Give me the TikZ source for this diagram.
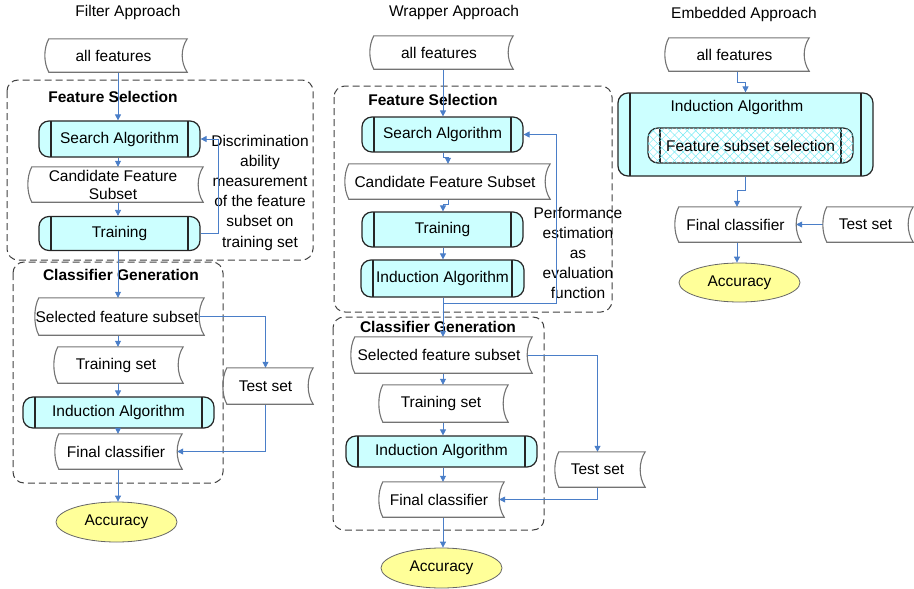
\documentclass[tikz,border=0pt]{standalone}
\usepackage{fontspec}
\setmainfont{Liberation Sans}
\usetikzlibrary{arrows.meta}
\usetikzlibrary{shapes.geometric}
\usetikzlibrary{patterns.meta}

\definecolor{procfill}{RGB}{204,255,255}
\definecolor{accfill}{RGB}{255,255,153}
\definecolor{linkblue}{RGB}{74,126,200}
\definecolor{hatchcyan}{RGB}{120,235,245}

\begin{document}
\begin{tikzpicture}[x=1pt,y=-1pt,font=\fontsize{15.5}{18}\selectfont,
arr/.style={draw=linkblue,line width=0.8pt,-{Triangle[length=6pt,width=6pt]}},
grp/.style={draw=black!75,line width=1pt,dash pattern=on 7pt off 4pt,rounded corners=11pt},
store/.style={inner sep=0pt,minimum height=35pt,align=center},
storeline/.style={draw=black!55,line width=1.1pt},
procbox/.style={draw=black!85,fill=procfill,line width=1.2pt,rounded corners=10pt,inner sep=0pt,minimum height=35pt,
  path picture={\draw[black!85,line width=1.2pt]
    ([xshift=12pt]path picture bounding box.north west) -- ([xshift=12pt]path picture bounding box.south west)
    ([xshift=-12pt]path picture bounding box.north east) -- ([xshift=-12pt]path picture bounding box.south east);}},
hatched/.style={fill=white,pattern color=hatchcyan,
  postaction={pattern={Lines[angle=45,distance=6pt,line width=0.5pt]},pattern color=hatchcyan},
  postaction={pattern={Lines[angle=-45,distance=6pt,line width=0.5pt]},pattern color=hatchcyan}},
acc/.style={ellipse,draw=black!60,fill=accfill,line width=0.8pt,minimum width=121pt,minimum height=40pt,inner sep=0pt},
grplabel/.style={font=\fontsize{15.5}{18}\selectfont\bfseries},
note/.style={align=center,font=\fontsize{15.5}{20.2}\selectfont}]

\useasboundingbox (0,0) rectangle (914,589);

% filter
\node (t1) at (128,12) {Filter Approach};
\draw[grp] (7,80) rectangle (313,260);
\draw[grp] (13,262) rectangle (223,483);
\node[grplabel] (fs1) at (113,97) {Feature Selection};
\node[grplabel] (cg1) at (121,275) {Classifier Generation};
\node[store,minimum width=137pt,minimum height=33pt] (af1) at (113.5,55.5) {all features};
\node[procbox,minimum width=161pt,minimum height=36pt] (sa1) at (119.5,139) {Search Algorithm};
\node[store,minimum width=170pt] (cfs1) at (113,184.5) {Candidate Feature\\Subset};
\node[procbox,minimum width=161pt,minimum height=34pt] (tr1) at (119.5,233.5) {Training};
\node[note] (disc) at (260,192.5) {Discrimination\\ability\\measurement\\of the feature\\subset on\\training set};
\node[store,minimum width=164pt,minimum height=37pt] (sfs1) at (117,316.5) {Selected feature subset};
\node[store,minimum width=124pt,minimum height=36pt] (ts1) at (116,365) {Training set};
\node[procbox,minimum width=191pt,minimum height=31pt] (ia1) at (118.5,412.5) {Induction Algorithm};
\node[store,minimum width=122pt] (fc1) at (116,451.5) {Final classifier};
\node[store,minimum width=85pt,minimum height=36pt] (te1) at (265.5,386) {Test set};
\node[acc] (acc1) at (116.5,522) {Accuracy};

\coordinate (col1) at (118,0);
\foreach \a/\b in {af1/sa1,sa1/cfs1,cfs1/tr1,tr1/sfs1,sfs1/ts1,ts1/ia1,ia1/fc1,fc1/acc1}
  \draw[arr] (col1 |- \a.south) -- (col1 |- \b.north);
\draw[arr] (tr1.east) -- ++(18,0) |- (sa1.east);
\draw[arr] (sfs1.east) -| (te1.north);
\draw[arr] (te1.south) |- (fc1.east);

% wrapper
\node (t2) at (454,12) {Wrapper Approach};
\draw[grp] (334,86) rectangle (612,312);
\draw[grp] (333,317) rectangle (544,530);
\node[grplabel] (fs2) at (433,100) {Feature Selection};
\node[grplabel] (cg2) at (438,327) {Classifier Generation};
\node[store,minimum width=138pt,minimum height=33pt] (af2) at (439,52.5) {all features};
\node[procbox,minimum width=161pt] (sa2) at (442.5,134.5) {Search Algorithm};
\node[store,minimum width=200pt] (cfs2) at (445,181.5) {Candidate Feature Subset};
\node[procbox,minimum width=161pt] (tr2) at (442.5,229.5) {Training};
\node[procbox,minimum width=163pt,minimum height=37pt] (ib2) at (442.5,278.5) {Induction Algorithm};
\node[note] (perf) at (578,253) {Performance\\estimation\\as\\evaluation\\function};
\node[store,minimum width=176pt,minimum height=36pt] (sfs2) at (439,355) {Selected feature subset};
\node[store,minimum width=124pt,minimum height=37pt] (ts2) at (441,403.5) {Training set};
\node[procbox,minimum width=191pt,minimum height=31pt] (ia2) at (441.5,451.5) {Induction Algorithm};
\node[store,minimum width=120pt] (fc2) at (439,499.5) {Final classifier};
\node[store,minimum width=85pt] (te2) at (597.5,469.5) {Test set};
\node[acc] (acc2) at (441.5,568) {Accuracy};

\coordinate (col2) at (443,0);
\draw[arr] (col2 |- af2.south) -- (col2 |- sa2.north);
\draw[arr] (col2 |- sa2.south) -- ++(0,5) -| ([xshift=3pt]cfs2.north);
\draw[arr] ([xshift=3pt]cfs2.south) -- ++(0,5) -| (col2 |- tr2.north);
\foreach \a/\b in {tr2/ib2,ib2/sfs2,sfs2/ts2,ts2/ia2,ia2/fc2,fc2/acc2}
  \draw[arr] (col2 |- \a.south) -- (col2 |- \b.north);
\draw[arr] (col2 |- ib2.south) -- ++(0,6) -| ([xshift=33pt]sa2.east) -- (sa2.east);
\draw[arr] (sfs2.east) -| (te2.north);
\draw[arr] (te2.south) |- (fc2.east);

% embedded
\node (t3) at (744,14) {Embedded Approach};
\node[store,minimum width=139pt,minimum height=33pt] (af3) at (734.5,54.5) {all features};
\node[procbox,minimum width=255pt,minimum height=83pt] (ia3) at (745.5,134.5) {};
\node (ia3t) at (737,107) {Induction Algorithm};
\node[procbox,hatched,minimum width=205pt] (fss) at (750.5,145.5) {Feature subset selection};
\node[store,minimum width=121pt] (fc3) at (735.5,224.5) {Final classifier};
\node[store,minimum width=85pt] (te3) at (865.5,224.5) {Test set};
\node[acc,minimum height=39pt] (acc3) at (739.5,282.5) {Accuracy};

\coordinate (col3) at (737,0);
\draw[arr] (col3 |- af3.south) -- ++(0,11) -| (ia3.north);
\draw[arr] (ia3.south) -- ++(0,14) -| (col3 |- fc3.north);
\draw[arr] (col3 |- fc3.south) -- (col3 |- acc3.north);
\draw[arr] (te3.west) -- (fc3.east);

% stored data outlines
\foreach \n in {af1,cfs1,sfs1,ts1,fc1,te1,af2,cfs2,sfs2,ts2,fc2,te2,af3,fc3,te3}
  \draw[storeline] ([xshift=4pt]\n.north west) .. controls +(-5.3,10) and +(-5.3,-10) .. ([xshift=4pt]\n.south west)
    -- ([xshift=5pt]\n.south east) .. controls +(-6.7,-10) and +(-6.7,10) .. ([xshift=5pt]\n.north east) -- cycle;
\end{tikzpicture}
\end{document}
